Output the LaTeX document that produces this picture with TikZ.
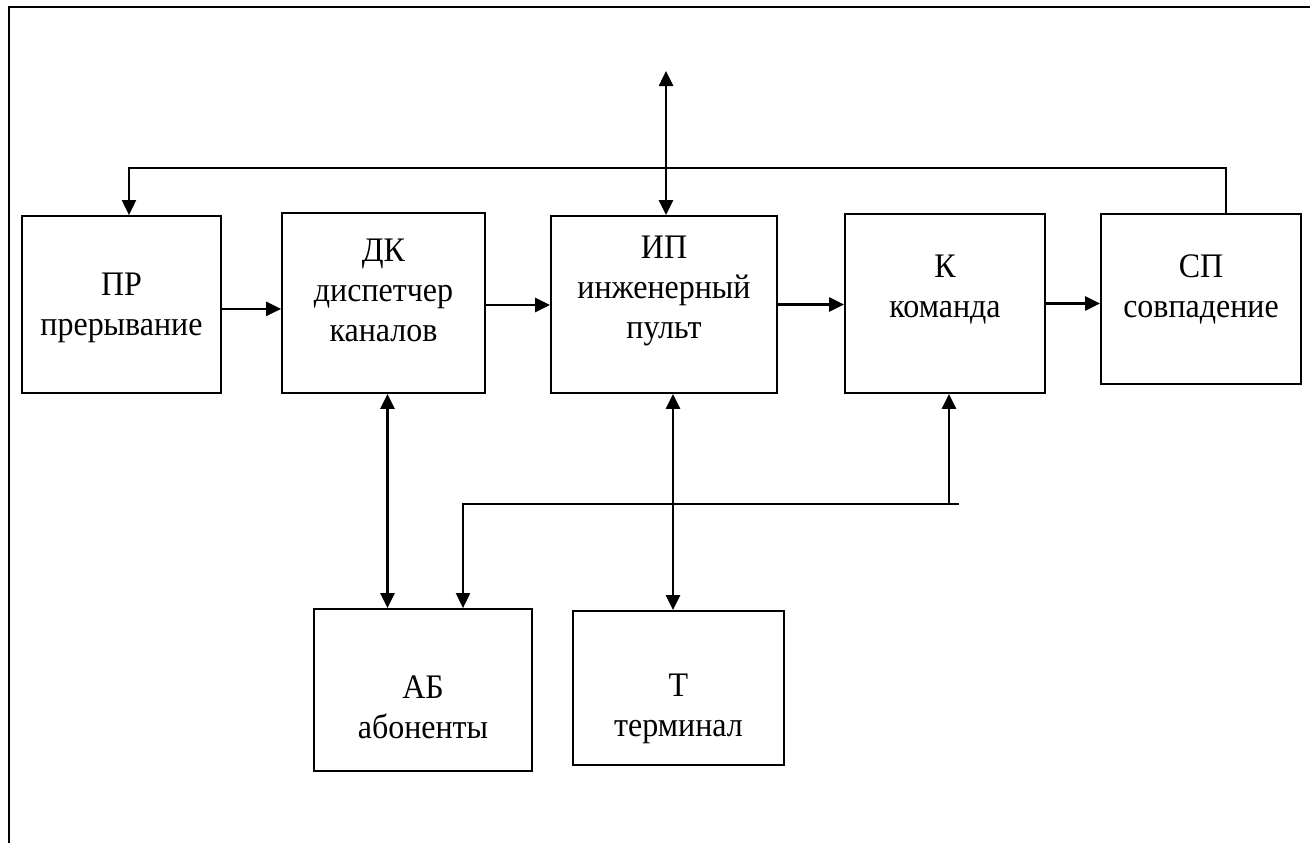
\documentclass[tikz,border=0pt]{standalone}
\usepackage{fontspec}
\setmainfont[FakeStretch=0.93]{Liberation Serif}
\usetikzlibrary{arrows.meta,positioning,calc}

\begin{document}
\begin{tikzpicture}[x=0.5pt,y=-0.5pt,
  blk/.style={draw,line width=0.9pt,inner sep=0pt},
  txt/.style={align=center,inner sep=0pt,font=\fontsize{17.2}{20}\selectfont},
  arr/.style={line width=1.3pt,-{Triangle[length=7.5pt,width=7pt]}},
  dbl/.style={line width=1.3pt,{Triangle[length=7.5pt,width=7pt]}-{Triangle[length=7.5pt,width=7pt]}},
  bus/.style={line width=1pt,-{Triangle[length=7.5pt,width=7pt]}}]
  \useasboundingbox (0,0) rectangle (1310,843);
  % open frame, only top and left sides
  \draw[line width=0.8pt] (9,843) -- (9,7) -- (1310,7);

  % upper row of blocks
  \node[blk,minimum width=99.5pt,minimum height=88.5pt,
    label={[txt,yshift=-1.5pt]center:{ПР\\прерывание}}] (pr) at (121.5,304.5) {};
  \node[blk,minimum width=101.5pt,minimum height=90pt,
    label={[txt,yshift=6.5pt]center:{ДК\\диспетчер\\каналов}}] (dk) at (383.5,303) {};
  \node[blk,minimum width=113pt,minimum height=88.5pt,
    label={[txt,yshift=7pt]center:{ИП\\инженерный\\пульт}}] (ip) at (664,304.5) {};
  \node[blk,minimum width=100pt,minimum height=89.5pt,
    label={[txt,yshift=7pt]center:{К\\команда}}] (k) at (945,303.5) {};
  \node[blk,minimum width=100pt,minimum height=85pt,
    label={[txt,yshift=5pt]center:{СП\\совпадение}}] (sp) at (1201,299) {};
  % lower row
  \node[blk,minimum width=109pt,minimum height=81pt,
    label={[txt,yshift=-8.5pt]center:{АБ\\абоненты}}] (ab) at (423,690) {};
  \node[blk,minimum width=105.5pt,minimum height=77pt,
    label={[txt,yshift=-10.5pt]center:{Т\\терминал}}] (t) at (678.5,688) {};

  % chain
  \draw[arr] ([yshift=-2.2pt]pr.east) -- ([yshift=-2.2pt]pr.east -| dk.west);
  \draw[arr] ([yshift=-1pt]dk.east) -- ([yshift=-1pt]dk.east -| ip.west);
  \draw[arr] (ip.east) -- (ip.east -| k.west);
  \draw[arr] (k.east) -- (k.east -| sp.west);

  % feedback from СП back to ПР
  \coordinate (fb) at (1226,168);
  \coordinate (fbl) at (129,168);
  \draw[bus] (sp.north -| fb) -- (fb) -- (fbl) -- (fbl |- pr.north);

  % external link of ИП
  \coordinate (up) at (666,71);
  \draw[dbl] (ip.north -| up) -- (up);

  % links to the lower blocks
  \draw[dbl] ([xshift=2pt]dk.south) -- ([xshift=2pt]dk.south |- ab.north);
  \draw[dbl] ([xshift=4.5pt]ip.south) -- ([xshift=4.5pt]ip.south |- t.north);

  % bus from К down to АБ
  \coordinate (bs) at (959,504);
  \coordinate (bsl) at (463,504);
  \coordinate (kin) at (949,504);
  \draw[bus] (bs) -- (bsl) -- (bsl |- ab.north);
  \draw[arr] (kin) -- (kin |- k.south);
\end{tikzpicture}
\end{document}
